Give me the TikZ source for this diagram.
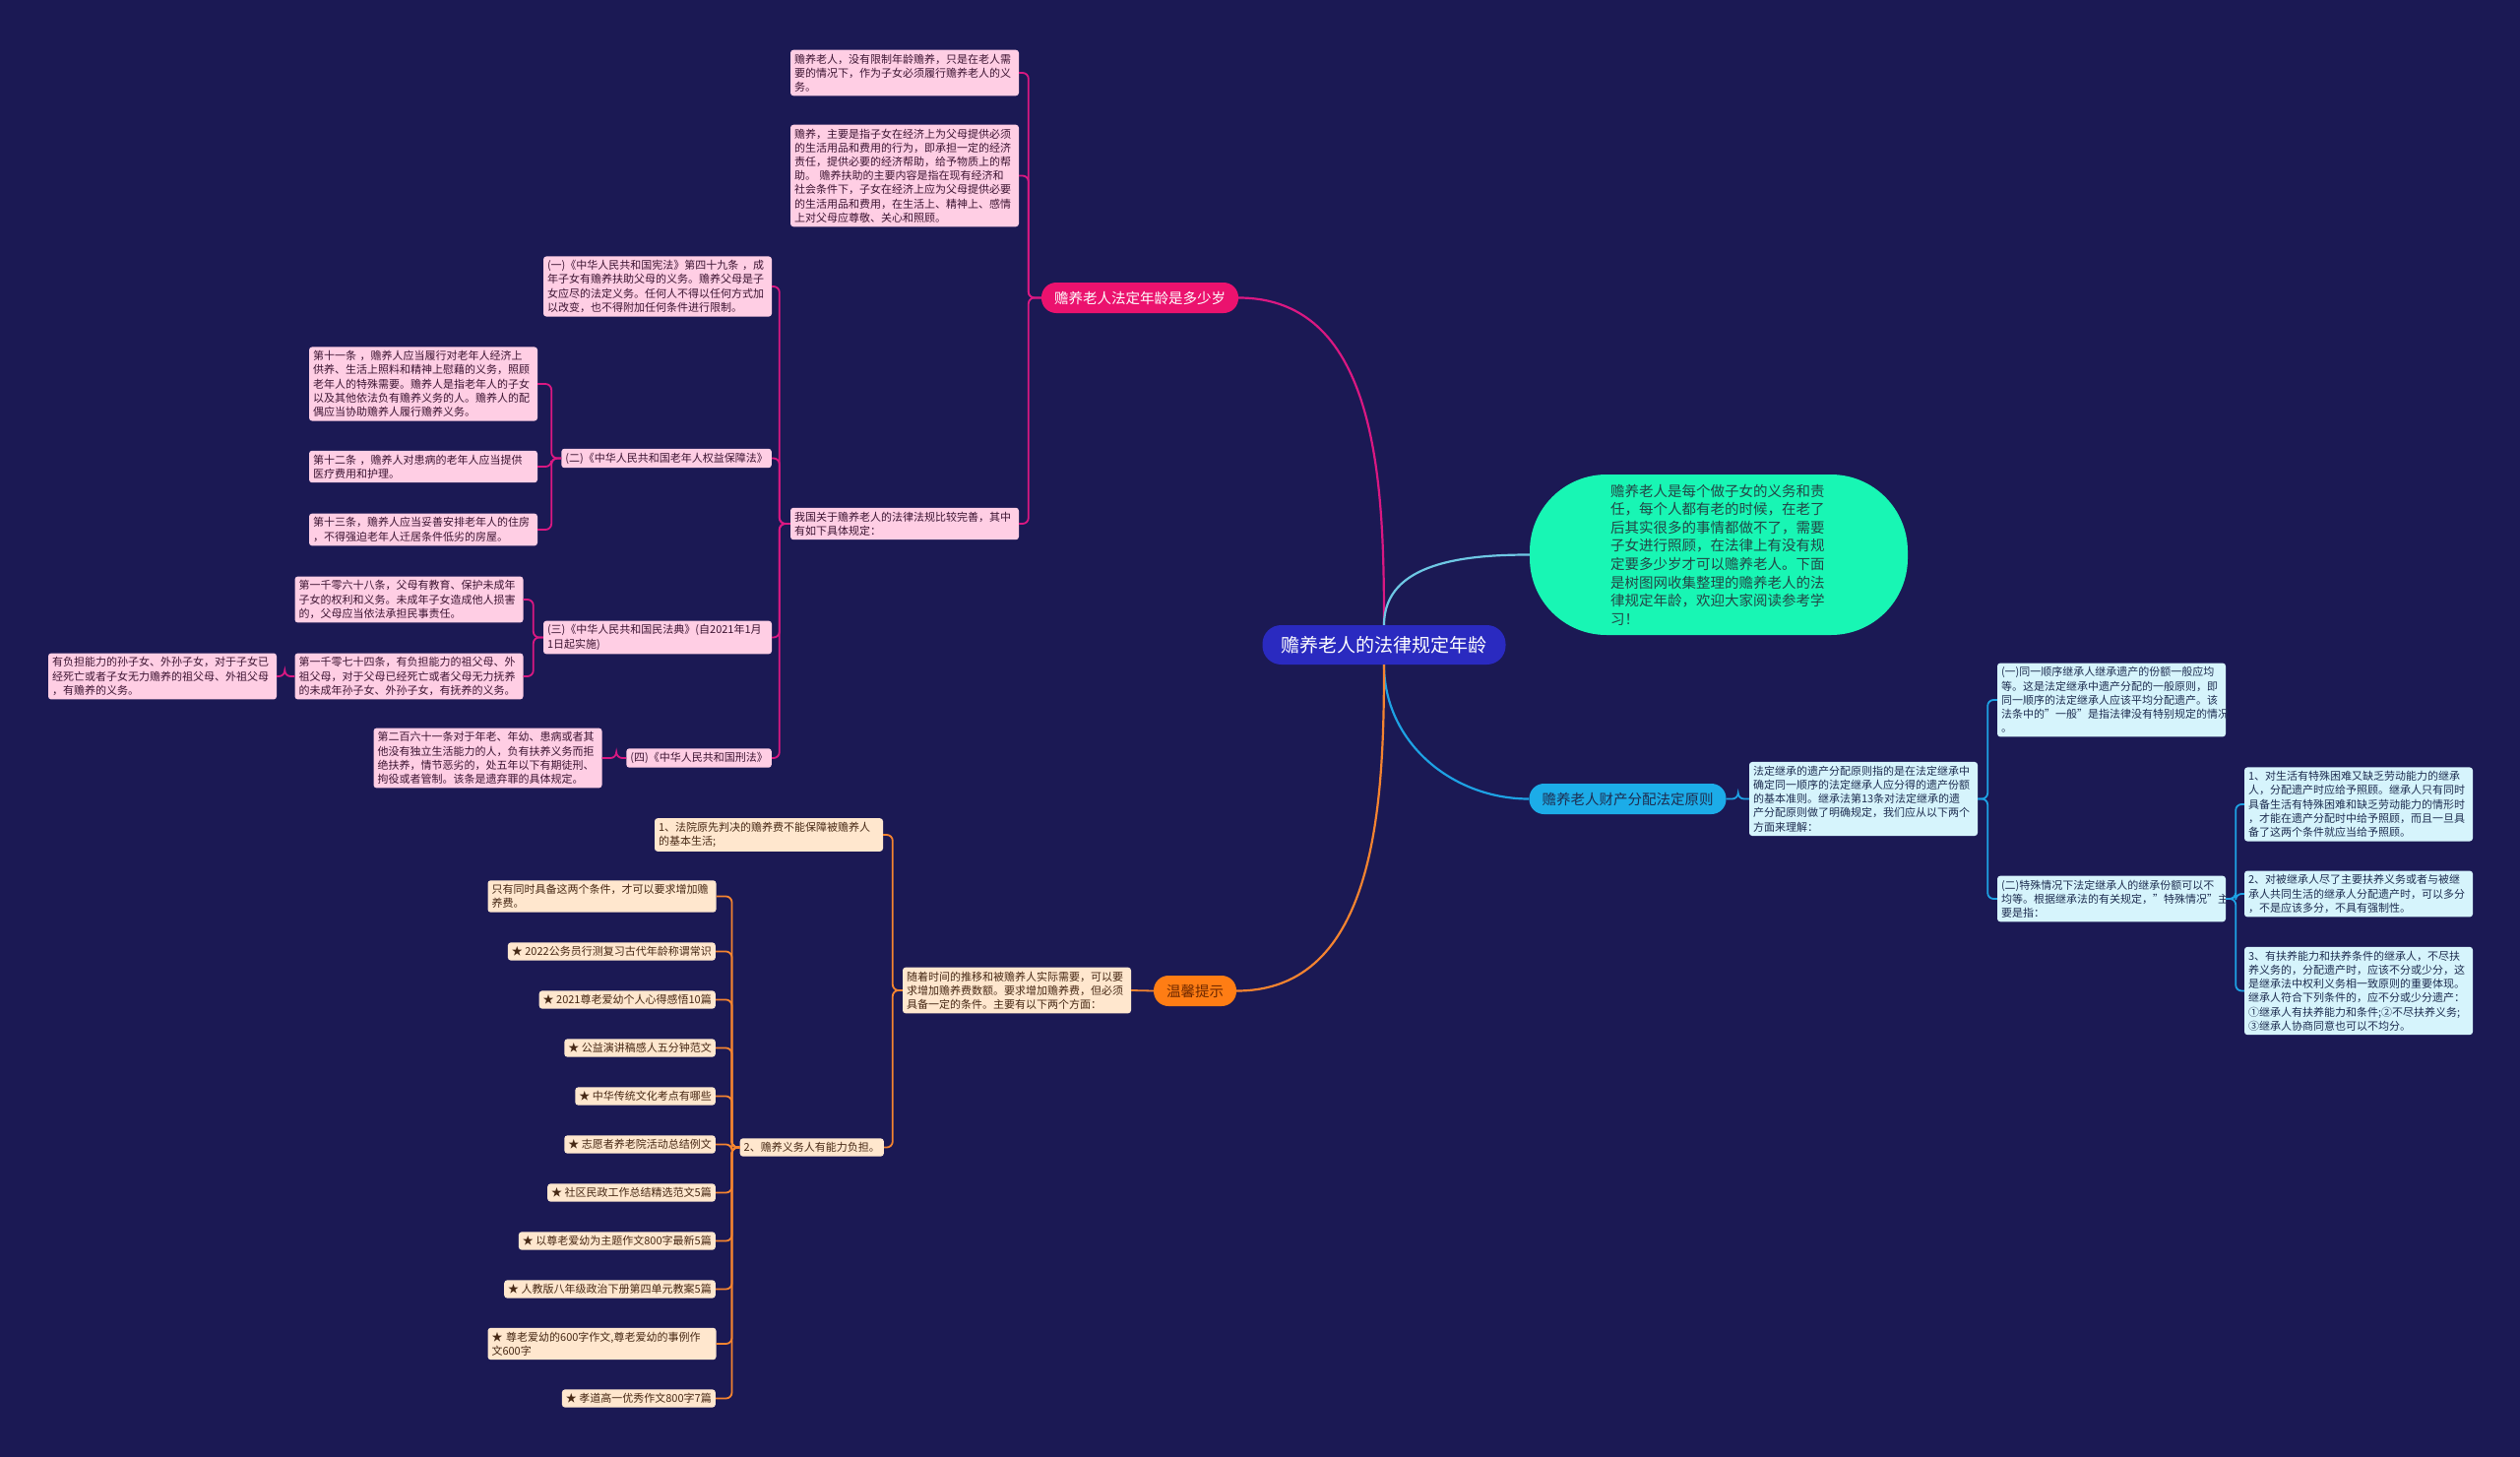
\documentclass[tikz,border=0pt]{standalone}
\usepackage{fontspec}
\setmainfont{Noto Sans CJK SC}
\definecolor{bgnavy}{RGB}{27,25,84}
\definecolor{rootblue}{RGB}{42,42,192}
\definecolor{pinkmain}{RGB}{235,18,110}
\definecolor{pinkline}{RGB}{218,24,130}
\definecolor{pinkfill}{RGB}{255,206,228}
\definecolor{pinktext}{RGB}{60,20,50}
\definecolor{tealfill}{RGB}{24,246,180}
\definecolor{tealline}{RGB}{110,200,228}
\definecolor{tealtext}{RGB}{35,70,70}
\definecolor{cyanmain}{RGB}{28,172,232}
\definecolor{cyanline}{RGB}{30,162,228}
\definecolor{cyanfill}{RGB}{214,244,252}
\definecolor{cyantext}{RGB}{30,45,80}
\definecolor{orangemain}{RGB}{255,125,20}
\definecolor{orangeline}{RGB}{245,132,48}
\definecolor{orangefill}{RGB}{255,231,206}
\definecolor{orangetext}{RGB}{70,40,20}
\tikzset{leaf/.style={rectangle,rounded corners=3pt,inner xsep=4pt,inner ysep=4pt,align=left,font=\fontsize{11}{14.2}\selectfont},
 wleaf/.style={leaf,text width=224pt},
 pk/.style={fill=pinkfill,text=pinktext},
 cy/.style={fill=cyanfill,text=cyantext},
 og/.style={fill=orangefill,text=orangetext},
 branch/.style={rectangle,rounded corners=15pt,minimum height=31pt,inner xsep=13pt,font=\fontsize{14.5}{17}\selectfont},
 pkline/.style={draw=pinkline,line width=1.8pt,rounded corners=6pt},
 cyline/.style={draw=cyanline,line width=1.8pt,rounded corners=6pt},
 ogline/.style={draw=orangeline,line width=1.8pt,rounded corners=6pt}}
\newcommand{\lbr}[4]{\draw[#1] (#2.west)--++(-#3,0)|-(#4.east);}
\newcommand{\rbr}[4]{\draw[#1] (#2.east)--++(#3,0)|-(#4.west);}
\begin{document}
\begin{tikzpicture}[x=1pt,y=-1pt]
\fill[bgnavy] (0,0) rectangle (2560,1480);
\useasboundingbox (0,0) rectangle (2560,1480);
% centre and main branches
\node[rectangle,rounded corners=19pt,minimum height=40pt,inner xsep=19pt,fill=rootblue,text=white,font=\fontsize{19}{22}\selectfont](root) at(1406,655){赡养老人的法律规定年龄};
\node[branch,fill=pinkmain,text=white](b1) at(1158,302.5){赡养老人法定年龄是多少岁};
\node[rectangle,rounded corners=78pt,minimum height=163pt,inner xsep=82pt,text width=220pt,align=left,fill=tealfill,text=tealtext,font=\fontsize{14.5}{18.6}\selectfont](b2) at(1746,563.5){赡养老人是每个做子女的义务和责\\任，每个人都有老的时候，在老了\\后其实很多的事情都做不了，需要\\子女进行照顾，在法律上有没有规\\定要多少岁才可以赡养老人。下面\\是树图网收集整理的赡养老人的法\\律规定年龄，欢迎大家阅读参考学\\习！};
\node[branch,fill=cyanmain,text=cyantext](b3) at(1653.5,811.5){赡养老人财产分配法定原则};
\node[branch,fill=orangemain,text={rgb,255:red,110;green,40;blue,0}](b4) at(1214,1006.5){温馨提示};
\draw[pinkline,line width=2.2pt] (root.north) to[out=90,in=0] (b1.east);
\draw[tealline,line width=2.2pt] (root.north) to[out=90,in=180] (b2.west);
\draw[cyanline,line width=2.2pt] (root.south) to[out=-90,in=180] (b3.west);
\draw[orangeline,line width=2.2pt] (root.south) to[out=-90,in=0] (b4.east);
% pink branch
\node[wleaf,pk](p1) at(919,74){赡养老人，没有限制年龄赡养，只是在老人需\\要的情况下，作为子女必须履行赡养老人的义\\务。};
\node[wleaf,pk](p2) at(919,178.5){赡养，主要是指子女在经济上为父母提供必须\\的生活用品和费用的行为，即承担一定的经济\\责任，提供必要的经济帮助，给予物质上的帮\\助。 赡养扶助的主要内容是指在现有经济和\\社会条件下，子女在经济上应为父母提供必要\\的生活用品和费用，在生活上、精神上、感情\\上对父母应尊敬、关心和照顾。};
\node[wleaf,pk](p3) at(919,532){我国关于赡养老人的法律法规比较完善，其中\\有如下具体规定：};
\node[wleaf,pk](q1) at(668,291){(一)《中华人民共和国宪法》第四十九条 ，成\\年子女有赡养扶助父母的义务。赡养父母是子\\女应尽的法定义务。任何人不得以任何方式加\\以改变，也不得附加任何条件进行限制。};
\node[leaf,pk,anchor=east](q2) at(784,465.5){(二)《中华人民共和国老年人权益保障法》};
\node[wleaf,pk](q3) at(668,647.5){(三)《中华人民共和国民法典》(自2021年1月\\1日起实施)};
\node[leaf,pk,anchor=east](q4) at(784,770){(四)《中华人民共和国刑法》};
\node[wleaf,pk](r1) at(430,390){第十一条 ，赡养人应当履行对老年人经济上\\供养、生活上照料和精神上慰藉的义务，照顾\\老年人的特殊需要。赡养人是指老年人的子女\\以及其他依法负有赡养义务的人。赡养人的配\\偶应当协助赡养人履行赡养义务。};
\node[wleaf,pk](r2) at(430,474){第十二条 ，赡养人对患病的老年人应当提供\\医疗费用和护理。};
\node[wleaf,pk](r3) at(430,538){第十三条，赡养人应当妥善安排老年人的住房\\，不得强迫老年人迁居条件低劣的房屋。};
\node[wleaf,pk](s1) at(415.5,609){第一千零六十八条，父母有教育、保护未成年\\子女的权利和义务。未成年子女造成他人损害\\的，父母应当依法承担民事责任。};
\node[wleaf,pk](s2) at(415.5,687){第一千零七十四条，有负担能力的祖父母、外\\祖父母，对于父母已经死亡或者父母无力抚养\\的未成年孙子女、外孙子女，有抚养的义务。};
\node[wleaf,pk](s3) at(165,687){有负担能力的孙子女、外孙子女，对于子女已\\经死亡或者子女无力赡养的祖父母、外祖父母\\，有赡养的义务。};
\node[wleaf,pk](t1) at(495.5,770){第二百六十一条对于年老、年幼、患病或者其\\他没有独立生活能力的人，负有扶养义务而拒\\绝扶养，情节恶劣的，处五年以下有期徒刑、\\拘役或者管制。该条是遗弃罪的具体规定。};
\foreach \c in {p1,p2,p3}{\lbr{pkline}{b1}{13}{\c}}
\foreach \c in {q1,q2,q3,q4}{\lbr{pkline}{p3}{11}{\c}}
\foreach \c in {r1,r2,r3}{\lbr{pkline}{q2}{10}{\c}}
\foreach \c in {s1,s2}{\lbr{pkline}{q3}{10}{\c}}
\lbr{pkline}{s2}{10}{s3}
\lbr{pkline}{q4}{10}{t1}
% cyan branch
\node[wleaf,cy](u1) at(1893,811.5){法定继承的遗产分配原则指的是在法定继承中\\确定同一顺序的法定继承人应分得的遗产份额\\的基本准则。继承法第13条对法定继承的遗\\产分配原则做了明确规定，我们应从以下两个\\方面来理解：};
\node[wleaf,cy](v1) at(2145,711){(一)同一顺序继承人继承遗产的份额一般应均\\等。这是法定继承中遗产分配的一般原则，即\\同一顺序的法定继承人应该平均分配遗产。该\\法条中的"一般"是指法律没有特别规定的情况\\。};
\node[wleaf,cy](v2) at(2145,913){(二)特殊情况下法定继承人的继承份额可以不\\均等。根据继承法的有关规定，"特殊情况"主\\要是指：};
\node[wleaf,cy](w1) at(2396,817){1、对生活有特殊困难又缺乏劳动能力的继承\\人，分配遗产时应给予照顾。继承人只有同时\\具备生活有特殊困难和缺乏劳动能力的情形时\\，才能在遗产分配时中给予照顾，而且一旦具\\备了这两个条件就应当给予照顾。};
\node[wleaf,cy](w2) at(2396,908){2、对被继承人尽了主要扶养义务或者与被继\\承人共同生活的继承人分配遗产时，可以多分\\，不是应该多分，不具有强制性。};
\node[wleaf,cy](w3) at(2396,1006.5){3、有扶养能力和扶养条件的继承人，不尽扶\\养义务的，分配遗产时，应该不分或少分，这\\是继承法中权利义务相一致原则的重要体现。\\继承人符合下列条件的，应不分或少分遗产：\\①继承人有扶养能力和条件;②不尽扶养义务;\\③继承人协商同意也可以不均分。};
\rbr{cyline}{b3}{12}{u1}
\foreach \c in {v1,v2}{\rbr{cyline}{u1}{10}{\c}}
\foreach \c in {w1,w2,w3}{\rbr{cyline}{v2}{10}{\c}}
% orange branch
\node[wleaf,og](x1) at(1033,1006){随着时间的推移和被赡养人实际需要，可以要\\求增加赡养费数额。要求增加赡养费，但必须\\具备一定的条件。主要有以下两个方面：};
\node[wleaf,og](y1) at(781,848){1、法院原先判决的赡养费不能保障被赡养人\\的基本生活;};
\node[leaf,og,anchor=east](y2) at(898,1165.5){2、赡养义务人有能力负担。};
\node[wleaf,og](z1) at(611.5,910.5){只有同时具备这两个条件，才可以要求增加赡\\养费。};
\node[leaf,og,anchor=east](z2) at(727,966.5){★ 2022公务员行测复习古代年龄称谓常识};
\node[leaf,og,anchor=east](z3) at(727,1015.5){★ 2021尊老爱幼个人心得感悟10篇};
\node[leaf,og,anchor=east](z4) at(727,1064.5){★ 公益演讲稿感人五分钟范文};
\node[leaf,og,anchor=east](z5) at(727,1113.5){★ 中华传统文化考点有哪些};
\node[leaf,og,anchor=east](z6) at(727,1162.5){★ 志愿者养老院活动总结例文};
\node[leaf,og,anchor=east](z7) at(727,1211.5){★ 社区民政工作总结精选范文5篇};
\node[leaf,og,anchor=east](z8) at(727,1260.5){★ 以尊老爱幼为主题作文800字最新5篇};
\node[leaf,og,anchor=east](z9) at(727,1309.5){★ 人教版八年级政治下册第四单元教案5篇};
\node[wleaf,og](z10) at(611.5,1365){★ 尊老爱幼的600字作文,尊老爱幼的事例作\\文600字};
\node[leaf,og,anchor=east](z11) at(727,1420.5){★ 孝道高一优秀作文800字7篇};
\foreach \c in {y1,y2}{\lbr{ogline}{x1}{10}{\c}}
\foreach \c in {z1,z2,z3,z4,z5,z6,z7,z8,z9,z10,z11}{\lbr{ogline}{y2}{8}{\c}}
\draw[ogline] (b4.west)--(x1.east);
\end{tikzpicture}
\end{document}
